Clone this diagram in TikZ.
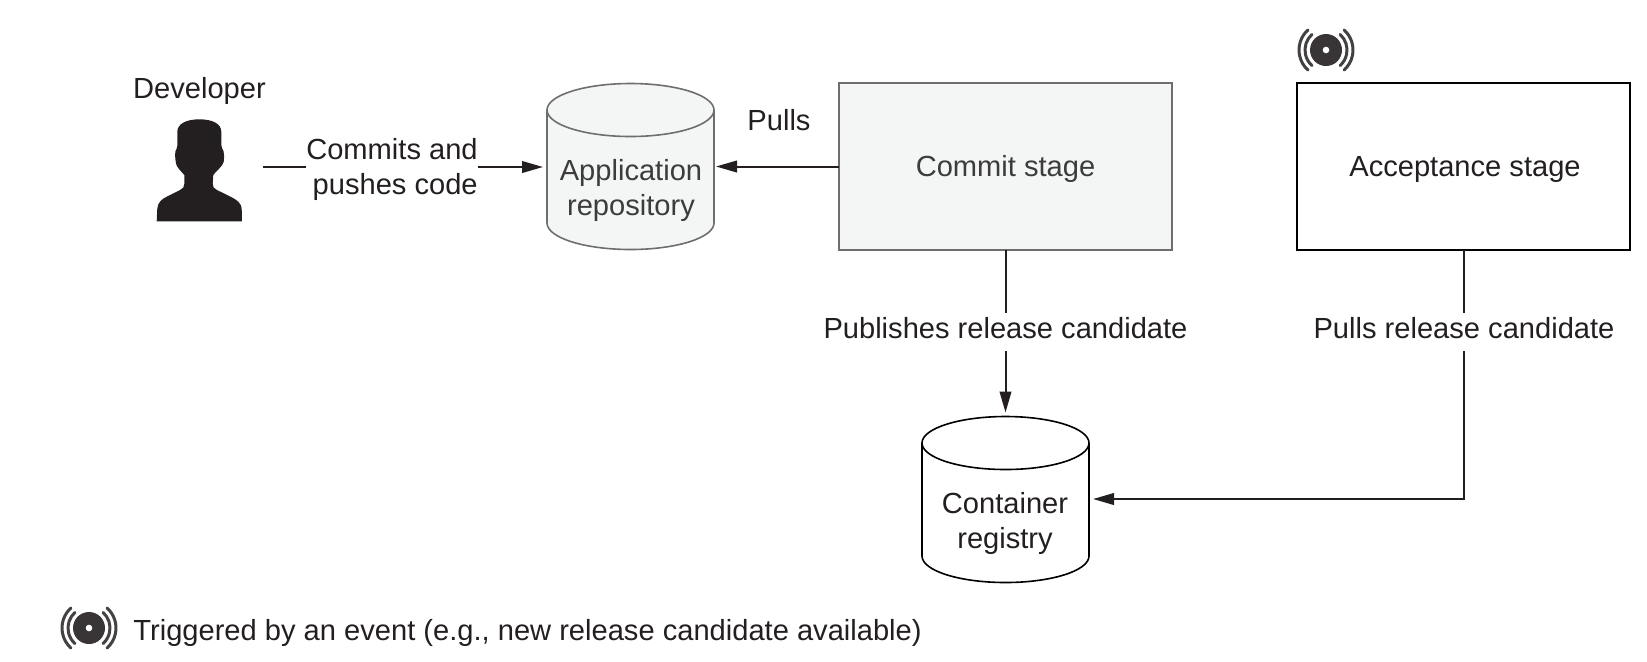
\documentclass[tikz,border=0pt]{standalone}
\usepackage{fontspec}
\setmainfont{Liberation Sans}
\usetikzlibrary{arrows.meta}
\definecolor{stagefill}{RGB}{244,246,245}
\definecolor{stagegray}{RGB}{110,110,110}
\definecolor{inktext}{RGB}{35,31,32}
\definecolor{softtext}{RGB}{60,60,60}
\tikzset{
  labeltext/.style={font=\fontsize{14.55}{17.6}\selectfont,align=center,text=inktext,inner sep=1pt},
  softlabel/.style={labeltext,text=softtext},
  gaplabel/.style={labeltext,fill=white,inner xsep=0pt,inner ysep=4pt,align=right},
  gapline/.style={labeltext,fill=white,anchor=base,inner xsep=1pt,inner ysep=0pt,text height=12.5pt,text depth=6.5pt},
  stagebox/.style={draw,line width=0.8pt,minimum width=166.5pt,minimum height=83.5pt,outer sep=0pt},
  storenode/.style={inner sep=0pt,outer sep=0pt,minimum width=83.5pt,minimum height=83pt},
  flowline/.style={line width=1pt,draw=inktext,-{Triangle[length=10.5pt,width=5.8pt]}},
  eventicon/.pic={
    \fill [inktext!90] (0,0) circle (16);
    \fill [white] (0,0) circle (3.3);
    \foreach \r in {21,27}{
      \draw [inktext!85,line width=1.5pt,line cap=round] (132:\r) arc (132:228:\r);
      \draw [inktext!85,line width=1.5pt,line cap=round] (48:\r) arc (48:-48:\r);
    }
  }
}
\newcommand{\drawstore}[3]{
  \draw [draw=#2,fill=#3,line width=0.8pt] ([yshift=13.25pt]#1.north west) arc (180:360:83.5 and 26.5) -- ([yshift=-13.25pt]#1.south east) arc (0:180:83.5 and 26.5) -- cycle;
  \draw [draw=#2,line width=0.8pt] ([yshift=13.25pt]#1.north west) arc (180:0:83.5 and 26.5);
}
\begin{document}
\begin{tikzpicture}[x=0.5pt,y=0.5pt,yscale=-1]
\useasboundingbox (0,0) rectangle (1647,661);

% Developer
\fill [inktext] (156.7,221.3) -- (157.3,208.3) .. controls (158,202) and (162,199) .. (166.7,196.7) -- (180,190) .. controls (183,188.5) and (184.3,187) .. (184.3,184) -- (184.3,175) .. controls (180,170) and (176.5,167) .. (176,163.3) .. controls (175,158) and (175,154) .. (175.5,151) .. controls (176,149) and (177.3,149) .. (177.3,146) -- (177.3,131.7) .. controls (177.3,124) and (186,119.3) .. (199.3,119.3) .. controls (213,119.3) and (221.3,124) .. (221.3,131.7) -- (221.5,146) .. controls (221.5,149) and (223,149) .. (223.5,151) .. controls (224.3,156) and (224.3,158) .. (223.7,162) .. controls (222,167) and (217,170) .. (213.3,175) -- (212.7,184) .. controls (212.7,187) and (214,188.5) .. (217,190) -- (231.7,197.3) .. controls (237,200) and (241,203) .. (241.7,208.3) -- (242,221.3) -- cycle;
\node [labeltext] (developer) at (199.5,91) {Developer};

% Stores
\node [storenode] (apprepo) at (630.5,166.5) {};
\node [storenode] (registry) at (1005.5,499.5) {};
\drawstore{apprepo}{stagegray}{stagefill}
\drawstore{registry}{black}{white}
\node [softlabel] (apprepotext) at (631,190.5) {Application\\repository};
\node [labeltext] (registrytext) at (1005,523.5) {Container\\registry};

% Stages
\node [stagebox,draw=stagegray,fill=stagefill] (commit) at (1005.5,166.5) {};
\node [stagebox,draw=black] (acceptance) at (1463.5,166.5) {};
\node [softlabel] (committext) at (1005.5,169) {Commit stage};
\node [labeltext] (acceptancetext) at (1465,169) {Acceptance stage};

% Connectors
\coordinate (pushstart) at (263,167);
\draw [flowline,shorten >=2pt] (pushstart) -- (apprepo.west |- pushstart);
\draw [flowline,shorten >=1pt] (commit.west) -- (apprepo.east);
\draw [flowline,shorten >=2pt] (commit.south) -- (registry.north);
\draw [flowline,shorten >=2pt] (acceptance.south) |- (registry.east |- 0,499);

% Text Node
\node [gaplabel] (pushlabel) at (392,169.5) {Commits and\\pushes code};
\node [labeltext] (pullslabel) at (779,120) {Pulls};
\node [gapline] (publishlabel) at (1005.5,338) {Publishes release candidate};
\node [gapline] (pullrclabel) at (1464,338) {Pulls release candidate};

% Event icons
\pic at (1326,50) {eventicon};
\pic at (89,628) {eventicon};
\node [labeltext,anchor=west] (legendtext) at (131,633) {Triggered by an event (e.g., new release candidate available)};

\end{tikzpicture}
\end{document}
